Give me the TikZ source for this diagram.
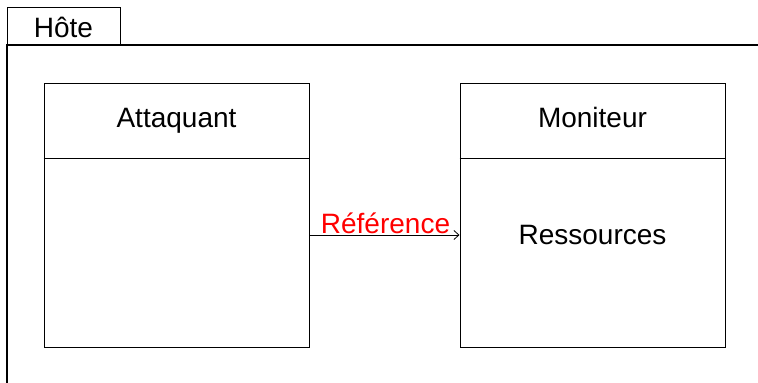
\documentclass[tikz,border=0pt]{standalone}
\usepackage{fontspec}
\setmainfont{Liberation Sans}
\usetikzlibrary{arrows.meta,positioning}

\begin{document}
\begin{tikzpicture}[x=1pt,y=-1pt,
  box/.style={draw,line width=1pt,minimum width=265pt,minimum height=264pt,inner sep=0pt},
  lbl/.style={font=\fontsize{28}{34}\selectfont,inner sep=0pt}]
  \useasboundingbox (0,0) rectangle (758,383);

  % host frame and its tab
  \coordinate (T1) at (7,7);
  \coordinate (T2) at (120,45);
  \draw[line width=1pt] (T1) rectangle (T2);
  \draw[line width=1.2pt] (7,383) -- (7,45) -- (758,45);
  \node[lbl,anchor=base] (hote) at (63.5,37) {Hôte};

  % the two components
  \node[box] (att) at (176.5,215) {};
  \node[box] (mon) at (592.5,215) {};
  \draw[line width=1pt] (att.west |- 0,158) -- (att.east |- 0,158);
  \draw[line width=1pt] (mon.west |- 0,158) -- (mon.east |- 0,158);

  \node[lbl,anchor=base] (attname) at ([yshift=-45pt]att.north) {Attaquant};
  \node[lbl,anchor=base] (monname) at ([yshift=-45pt]mon.north) {Moniteur};
  \node[lbl,anchor=base] (res) at ([yshift=-29pt]mon.center) {Ressources};

  % reference from the attacker to the monitor
  \draw[line width=0.8pt,-{Straight Barb[length=5pt,width=9pt]}]
    ([yshift=-20pt]att.east) -- ([yshift=-20pt]mon.west)
    node[lbl,pos=1,anchor=base east,xshift=-9pt,yshift=2pt,red] (ref) {Référence};
\end{tikzpicture}
\end{document}
